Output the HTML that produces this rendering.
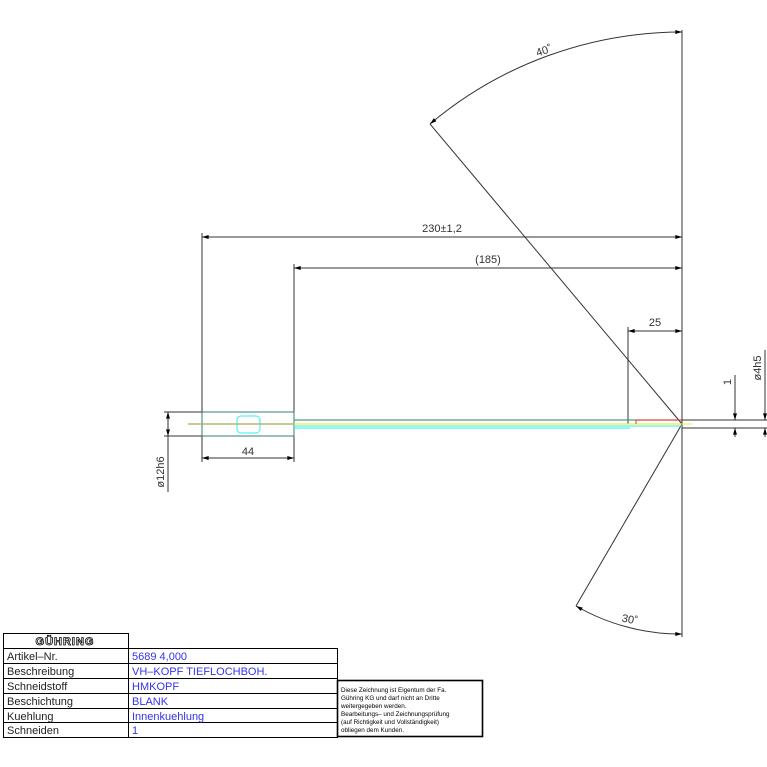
<!DOCTYPE html>
<html><head><style>
body{margin:0;background:#fff;}
svg{display:block;font-family:"Liberation Sans",sans-serif;}
</style></head><body>
<svg width="767" height="767" viewBox="0 0 767 767" xmlns="http://www.w3.org/2000/svg">
<defs>
<marker id="a" viewBox="0 0 10 6" refX="10" refY="3" markerWidth="9" markerHeight="4" orient="auto-start-reverse"><path d="M0,0L10,3L0,6z" fill="#000"/></marker>
</defs>
<g stroke="#333" stroke-width="1" fill="none">
<!-- extension lines -->
<line x1="682" y1="30" x2="682" y2="637"/>
<line x1="202" y1="233" x2="202" y2="462"/>
<line x1="294" y1="264" x2="294" y2="462"/>
<line x1="628" y1="327" x2="628" y2="424"/>
<!-- dims -->
<line x1="202" y1="237" x2="682" y2="237" marker-start="url(#a)" marker-end="url(#a)"/>
<line x1="294" y1="268" x2="682" y2="268" marker-start="url(#a)" marker-end="url(#a)"/>
<line x1="628" y1="331" x2="682" y2="331" marker-start="url(#a)" marker-end="url(#a)"/>
<line x1="202" y1="458" x2="294" y2="458" marker-start="url(#a)" marker-end="url(#a)"/>
<!-- angle lines -->
<line x1="682" y1="424" x2="430" y2="124"/>
<line x1="682" y1="424" x2="576" y2="606"/>
<path d="M430,124 A392,392 0 0 1 682,32" marker-start="url(#a)" marker-end="url(#a)"/>
<path d="M576,606 A210,210 0 0 0 682,634" marker-start="url(#a)" marker-end="url(#a)"/>
<!-- left dia -->
<line x1="164" y1="412" x2="202" y2="412"/>
<line x1="164" y1="436" x2="202" y2="436"/>
<line x1="168" y1="412" x2="168" y2="492" />
<line x1="168" y1="416" x2="168" y2="412" marker-end="url(#a)"/>
<line x1="168" y1="432" x2="168" y2="436" marker-end="url(#a)"/>
<!-- right dims -->
<line x1="682" y1="420" x2="767" y2="420"/>
<line x1="682" y1="428" x2="767" y2="428"/>
<line x1="735" y1="375" x2="735" y2="420" marker-end="url(#a)"/>
<line x1="735" y1="437" x2="735" y2="428" marker-end="url(#a)"/>
<line x1="765" y1="350" x2="765" y2="420" marker-end="url(#a)"/>
<line x1="765" y1="437" x2="765" y2="428" marker-end="url(#a)"/>
</g>
<!-- tool -->
<rect x="202" y="412" width="92" height="24" fill="none" stroke="#3ee" stroke-width="1"/>
<rect x="202" y="412" width="92" height="24" fill="none" stroke="#333" stroke-width="0.6"/>
<rect x="237" y="416" width="23" height="17" rx="4" fill="none" stroke="#3ee"/>
<line x1="188" y1="424" x2="682" y2="424" stroke="#ee4" stroke-width="1.2"/>
<line x1="188" y1="424" x2="294" y2="424" stroke="#776" stroke-width="0.8"/>
<line x1="294" y1="420" x2="682" y2="420" stroke="#598" stroke-width="1.2"/>
<line x1="294" y1="426" x2="682" y2="426" stroke="#3ee" stroke-width="1"/>
<line x1="294" y1="428" x2="630" y2="428" stroke="#3ee" stroke-width="1"/>
<line x1="636" y1="420" x2="682" y2="420" stroke="#e33" stroke-width="1"/>
<line x1="636" y1="420" x2="636" y2="424" stroke="#e33" stroke-width="1"/>
<line x1="682" y1="424" x2="692" y2="424" stroke="#ee4" stroke-width="1"/>
<g fill="#333" font-size="11">
<text x="442" y="232" text-anchor="middle">230±1,2</text>
<text x="488" y="263" text-anchor="middle">(185)</text>
<text x="655" y="326" text-anchor="middle">25</text>
<text x="248" y="455" text-anchor="middle">44</text>
<text transform="translate(545,54) rotate(-18)" text-anchor="middle">40˚</text>
<text transform="translate(629,623) rotate(12)" text-anchor="middle">30˚</text>
<text transform="translate(164,472) rotate(-90)" text-anchor="middle">ø12h6</text>
<text transform="translate(731,382) rotate(-90)" text-anchor="middle">1</text>
<text transform="translate(761,368) rotate(-90)" text-anchor="middle">ø4h5</text>
</g>
<!-- table -->
<g stroke="#000" stroke-width="1" fill="none">
<rect x="3.5" y="633.5" width="125" height="104"/>
<rect x="128.5" y="648.5" width="209" height="89"/>
<line x1="3" y1="648.5" x2="128" y2="648.5"/>
<line x1="3" y1="663.5" x2="337" y2="663.5"/>
<line x1="3" y1="678.5" x2="337" y2="678.5"/>
<line x1="3" y1="693.5" x2="337" y2="693.5"/>
<line x1="3" y1="708.5" x2="337" y2="708.5"/>
<line x1="3" y1="722.5" x2="337" y2="722.5"/>
<rect x="337.5" y="680.5" width="145" height="56" stroke-width="1.6"/>
</g>
<text x="65" y="645" text-anchor="middle" font-size="11" font-weight="bold" fill="#fff" stroke="#000" stroke-width="0.8" letter-spacing="1">GÜHRING</text>
<g font-size="11" fill="#222">
<text x="7" y="660">Artikel–Nr.</text>
<text x="7" y="675">Beschreibung</text>
<text x="7" y="690">Schneidstoff</text>
<text x="7" y="705">Beschichtung</text>
<text x="7" y="720">Kuehlung</text>
<text x="7" y="734">Schneiden</text>
</g>
<g font-size="11" fill="#33e">
<text x="132" y="660">5689 4,000</text>
<text x="132" y="675">VH–KOPF TIEFLOCHBOH.</text>
<text x="132" y="690">HMKOPF</text>
<text x="132" y="705">BLANK</text>
<text x="132" y="720">Innenkuehlung</text>
<text x="132" y="734">1</text>
</g>
<g font-size="6.3" fill="#000">
<text x="341" y="692">Diese Zeichnung ist Eigentum der Fa.</text>
<text x="341" y="700">Gühring KG und darf nicht an Dritte</text>
<text x="341" y="708">weitergegeben werden.</text>
<text x="341" y="716">Bearbeitungs– und Zeichnungsprüfung</text>
<text x="341" y="724">(auf Richtigkeit und Vollständigkeit)</text>
<text x="341" y="732">obliegen dem Kunden.</text>
</g>
</svg>
</body></html>
